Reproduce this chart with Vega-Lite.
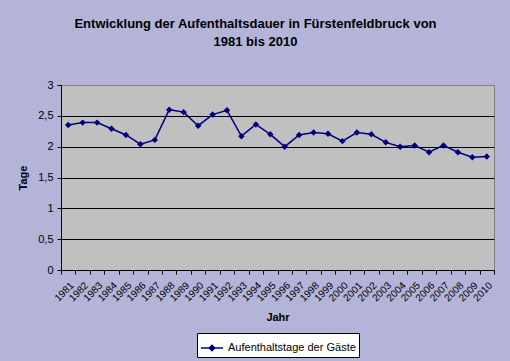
{
  "$schema": "https://vega.github.io/schema/vega-lite/v6.json",
  "width": 433,
  "height": 185,
  "autosize": {"type": "none"},
  "padding": {"left": 61, "top": 85, "right": 16, "bottom": 91},
  "background": "#b3b4d8",
  "title": {
    "text": ["Entwicklung der Aufenthaltsdauer in Fürstenfeldbruck von", "1981 bis 2010"],
    "anchor": "middle",
    "dx": -22,
    "offset": 30,
    "font": "Liberation Sans",
    "fontSize": 13,
    "fontWeight": "bold",
    "color": "#000000",
    "lineHeight": 18
  },
  "data": {
    "values": [
      {"Jahr": 1981, "Tage": 2.35},
      {"Jahr": 1982, "Tage": 2.39},
      {"Jahr": 1983, "Tage": 2.39},
      {"Jahr": 1984, "Tage": 2.29},
      {"Jahr": 1985, "Tage": 2.19},
      {"Jahr": 1986, "Tage": 2.04},
      {"Jahr": 1987, "Tage": 2.11},
      {"Jahr": 1988, "Tage": 2.60},
      {"Jahr": 1989, "Tage": 2.56},
      {"Jahr": 1990, "Tage": 2.34},
      {"Jahr": 1991, "Tage": 2.52},
      {"Jahr": 1992, "Tage": 2.59},
      {"Jahr": 1993, "Tage": 2.17},
      {"Jahr": 1994, "Tage": 2.36},
      {"Jahr": 1995, "Tage": 2.20},
      {"Jahr": 1996, "Tage": 2.00},
      {"Jahr": 1997, "Tage": 2.19},
      {"Jahr": 1998, "Tage": 2.23},
      {"Jahr": 1999, "Tage": 2.21},
      {"Jahr": 2000, "Tage": 2.09},
      {"Jahr": 2001, "Tage": 2.23},
      {"Jahr": 2002, "Tage": 2.20},
      {"Jahr": 2003, "Tage": 2.07},
      {"Jahr": 2004, "Tage": 2.00},
      {"Jahr": 2005, "Tage": 2.02},
      {"Jahr": 2006, "Tage": 1.91},
      {"Jahr": 2007, "Tage": 2.02},
      {"Jahr": 2008, "Tage": 1.91},
      {"Jahr": 2009, "Tage": 1.83},
      {"Jahr": 2010, "Tage": 1.84}
    ]
  },
  "mark": {
    "type": "line",
    "strokeWidth": 1.5,
    "point": {"shape": "diamond", "size": 42, "filled": true, "opacity": 1}
  },
  "encoding": {
    "x": {
      "field": "Jahr",
      "type": "ordinal",
      "scale": {"paddingInner": 0, "paddingOuter": 0},
      "axis": {
        "title": "Jahr",
        "labelAngle": -45,
        "labelFontSize": 10,
        "labelPadding": 6,
        "labelOverlap": false,
        "tickBand": "extent",
        "tickSize": 4,
        "titlePadding": 9
      }
    },
    "y": {
      "field": "Tage",
      "type": "quantitative",
      "scale": {"domain": [0, 3], "nice": false},
      "axis": {
        "title": "Tage",
        "values": [0, 0.5, 1, 1.5, 2, 2.5, 3],
        "labelExpr": "replace('' + datum.value, '.', ',')",
        "grid": true,
        "gridColor": {"condition": {"test": "datum.value == 3", "value": "#808080"}, "value": "#000000"},
        "tickSize": 4,
        "labelPadding": 4,
        "titlePadding": 9,
        "labelFontSize": 11
      }
    },
    "color": {
      "datum": "Aufenthaltstage der Gäste",
      "type": "nominal",
      "scale": {"range": ["#000080"]},
      "legend": {
        "title": null,
        "orient": "none",
        "legendX": 136,
        "legendY": 248,
        "padding": 3,
        "fillColor": "#ffffff",
        "strokeColor": "#000000",
        "cornerRadius": 0,
        "symbolType": "M-1,0H1M0,-0.25L0.25,0L0,0.25L-0.25,0Z",
        "symbolSize": 484,
        "symbolStrokeWidth": 1.5,
        "symbolFillColor": "#000080",
        "symbolStrokeColor": "#000080",
        "labelFontSize": 11,
        "labelOffset": 4,
        "labelColor": "#000000"
      }
    }
  },
  "config": {
    "font": "Liberation Sans",
    "view": {"fill": "#c0c0c0", "stroke": "#808080", "strokeWidth": 1},
    "axis": {
      "domainColor": "#000000",
      "tickColor": "#000000",
      "labelColor": "#000000",
      "titleColor": "#000000",
      "labelFont": "Liberation Sans",
      "titleFont": "Liberation Sans",
      "titleFontSize": 11,
      "titleFontWeight": "bold",
      "gridOpacity": 1,
      "gridWidth": 1
    },
    "legend": {"labelFont": "Liberation Sans"}
  }
}
